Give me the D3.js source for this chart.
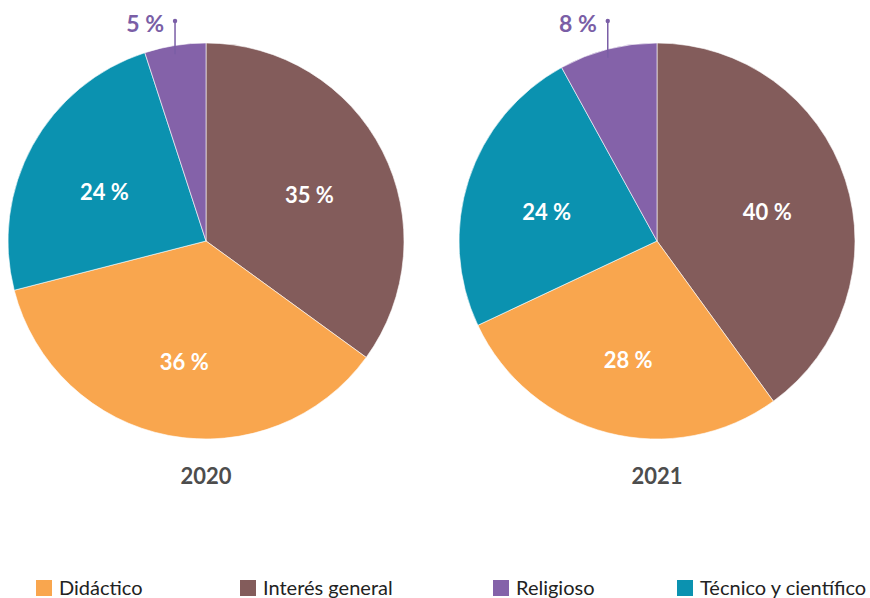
<!DOCTYPE html>
<html>
<head>
<meta charset="utf-8">
<script src="https://cdn.jsdelivr.net/npm/d3@7"></script>
<style>
  body { margin: 0; background: #fff; }
  text { font-family: Lato, "Open Sans", sans-serif; }
</style>
</head>
<body>
<div id="chart"></div>
<script>
var categories = ["Interés general", "Didáctico", "Técnico y científico", "Religioso"]
var years = ["2020", "2021"]
var values2020 = [35, 36, 24, 5]
var values2021 = [40, 28, 24, 8]
var legendOrder = ["Didáctico", "Interés general", "Religioso", "Técnico y científico"]

var width = 870, height = 598
var radius = 198
var centers = [{ x: 206, y: 241 }, { x: 657, y: 241 }]

var color = d3.scaleOrdinal()
    .domain(categories)
    .range(["#835c5b", "#f9a64e", "#0b92b0", "#8462a9"])

var svg = d3.select("#chart")
    .append("svg")
    .attr("width", width)
    .attr("height", height)

var pie = d3.pie().sort(null).value(function (d) { return d.value })
var arc = d3.arc().innerRadius(0).outerRadius(radius)
var labelArc = d3.arc().innerRadius(116).outerRadius(116)

var series = [values2020, values2021]

series.forEach(function (vals, k) {
    var data = vals.map(function (v, i) { return { name: categories[i], value: v } })
    var g = svg.append("g")
        .attr("transform", "translate(" + centers[k].x + "," + centers[k].y + ")")

    var arcs = pie(data)

    g.selectAll("path")
        .data(arcs)
        .enter()
        .append("path")
        .attr("d", arc)
        .attr("fill", function (d) { return color(d.data.name) })
        .attr("stroke", "#fff")
        .attr("stroke-width", 0.6)

    // labels inside big slices
    g.selectAll("text.pct")
        .data(arcs.filter(function (d) { return d.data.value > 10 }))
        .enter()
        .append("text")
        .attr("class", "pct")
        .attr("x", function (d) { return labelArc.centroid(d)[0] })
        .attr("y", function (d) { return labelArc.centroid(d)[1] + 7 })
        .attr("dy", "0.35em")
        .attr("text-anchor", "middle")
        .attr("font-size", 22)
        .attr("font-weight", "bold")
        .attr("fill", "#fff")
        .text(function (d) { return d.data.value + " %" })

    // small slice gets a leader line on top
    var small = arcs.filter(function (d) { return d.data.value <= 10 })
    small.forEach(function (d) {
        var mid = (d.startAngle + d.endAngle) / 2
        var lx = radius * Math.sin(mid)
        var ly0 = -radius * 0.955 * Math.cos(mid)
        var ly1 = 21 - centers[k].y
        g.append("line")
            .attr("x1", lx).attr("x2", lx)
            .attr("y1", ly0).attr("y2", ly1)
            .attr("stroke", "#7a5ea6")
            .attr("stroke-width", 1.5)
        g.append("circle")
            .attr("cx", lx).attr("cy", ly1)
            .attr("r", 2.2)
            .attr("fill", "#7a5ea6")
        g.append("text")
            .attr("x", lx - 11)
            .attr("y", ly1 + 11)
            .attr("text-anchor", "end")
            .attr("font-size", 23)
            .attr("font-weight", "bold")
            .attr("fill", "#7a5ea6")
            .text(d.data.value + " %")
    })

    g.append("text")
        .attr("x", 0)
        .attr("y", radius + 45)
        .attr("text-anchor", "middle")
        .attr("font-size", 22)
        .attr("font-weight", "bold")
        .attr("fill", "#4d4d4d")
        .text(years[k])
})

var legendPos = { "Didáctico": 36, "Interés general": 240, "Religioso": 493, "Técnico y científico": 677 }

var legend = svg.selectAll("g.legend")
    .data(legendOrder)
    .enter()
    .append("g")
    .attr("class", "legend")
    .attr("transform", function (d) { return "translate(" + legendPos[d] + ",580)" })

legend.append("rect")
    .attr("width", 16)
    .attr("height", 16)
    .attr("fill", function (d) { return color(d) })

legend.append("text")
    .attr("x", 23)
    .attr("y", 15)
    .attr("font-size", 20)
    .attr("fill", "#222")
    .text(function (d) { return d })
</script>
</body>
</html>
